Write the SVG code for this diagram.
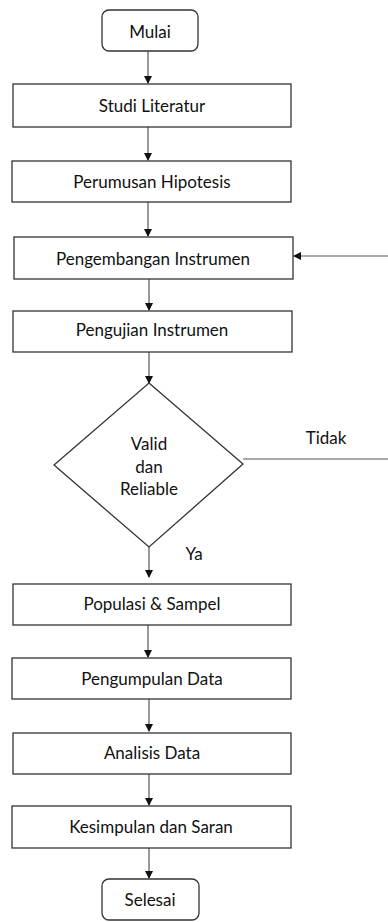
<svg xmlns="http://www.w3.org/2000/svg" width="388" height="922" viewBox="0 0 388 922">
<style>
.b{fill:#fff;stroke:#333;stroke-width:1.3}
.t{font-family:Lato,"Liberation Sans",sans-serif;font-size:17px;fill:#111;text-anchor:middle;dominant-baseline:central}
.c{fill:none;stroke:#555;stroke-width:1.2}
</style>
<defs>
<marker id="ah" markerWidth="8" markerHeight="8" refX="7" refY="4" orient="auto" markerUnits="userSpaceOnUse">
<path d="M0,0 L8,4 L0,8 Z" fill="#111"/>
</marker>
</defs>
<rect width="388" height="922" fill="#fff"/>
<g id="connectors">
<line class="c" x1="148" y1="51" x2="148" y2="83" marker-end="url(#ah)"/>
<line class="c" x1="148" y1="127" x2="148" y2="160" marker-end="url(#ah)"/>
<line class="c" x1="148" y1="202" x2="148" y2="236" marker-end="url(#ah)"/>
<line class="c" x1="149" y1="279" x2="149" y2="310" marker-end="url(#ah)"/>
<line class="c" x1="149" y1="352" x2="149" y2="383" marker-end="url(#ah)"/>
<line class="c" x1="149" y1="547" x2="149" y2="577" marker-end="url(#ah)"/>
<line class="c" x1="148" y1="625" x2="148" y2="657" marker-end="url(#ah)"/>
<line class="c" x1="149" y1="699" x2="149" y2="731" marker-end="url(#ah)"/>
<line class="c" x1="149" y1="774" x2="149" y2="805" marker-end="url(#ah)"/>
<line class="c" x1="149" y1="848" x2="149" y2="878" marker-end="url(#ah)"/>
<line class="c" x1="243" y1="459" x2="388" y2="459"/>
<line class="c" x1="388" y1="256" x2="294" y2="256" marker-end="url(#ah)"/>
<text class="t" x="326" y="437">Tidak</text>
<text class="t" x="194" y="553">Ya</text>
</g>
<g id="mulai"><rect class="b" x="102" y="10" width="96" height="41" rx="7"/><text class="t" x="150" y="31">Mulai</text></g>
<g id="studi"><rect class="b" x="13" y="84" width="278" height="43"/><text class="t" x="152" y="105">Studi Literatur</text></g>
<g id="perumusan"><rect class="b" x="12" y="161" width="279" height="41"/><text class="t" x="152" y="181">Perumusan Hipotesis</text></g>
<g id="pengembangan"><rect class="b" x="14" y="237" width="279" height="42"/><text class="t" x="153" y="258">Pengembangan Instrumen</text></g>
<g id="pengujian"><rect class="b" x="13" y="311" width="279" height="41"/><text class="t" x="152" y="329">Pengujian Instrumen</text></g>
<g id="valid"><polygon class="b" points="149,383 243,464 149,547 54,465"/>
<text class="t" x="149" y="443">Valid</text><text class="t" x="149" y="466">dan</text><text class="t" x="149" y="488">Reliable</text></g>
<g id="populasi"><rect class="b" x="13" y="584" width="278" height="41"/><text class="t" x="152" y="603">Populasi &amp; Sampel</text></g>
<g id="pengumpulan"><rect class="b" x="12" y="658" width="279" height="41"/><text class="t" x="152" y="678">Pengumpulan Data</text></g>
<g id="analisis"><rect class="b" x="13" y="733" width="278" height="41"/><text class="t" x="152" y="752">Analisis Data</text></g>
<g id="kesimpulan"><rect class="b" x="12" y="806" width="279" height="42"/><text class="t" x="151" y="826">Kesimpulan dan Saran</text></g>
<g id="selesai"><rect class="b" x="102" y="879" width="97" height="41" rx="7"/><text class="t" x="150" y="899">Selesai</text></g>
</svg>
